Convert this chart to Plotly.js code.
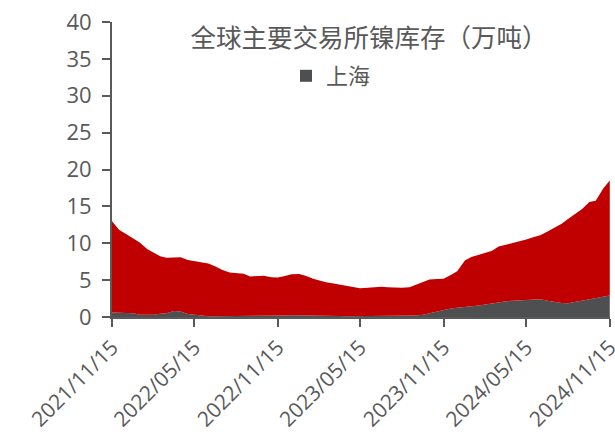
<!DOCTYPE html>
<html>
<head>
<meta charset="utf-8">
<script src="https://cdn.plot.ly/plotly-3.0.1.min.js"></script>
<style>
  html, body { margin: 0; padding: 0; background: #ffffff; }
  #chart { width: 615px; height: 434px; }
</style>
</head>
<body>
<div id="chart"></div>
<script>
// Nickel warehouse stocks at the major exchanges, 10k tonnes, semi-monthly readings
const dates = [
  '2021-11-15','2021-12-01','2021-12-15',
  '2022-01-01','2022-01-15','2022-02-01','2022-02-15','2022-03-01','2022-03-15',
  '2022-04-01','2022-04-15','2022-05-01','2022-05-15','2022-06-01','2022-06-15',
  '2022-07-01','2022-07-15','2022-08-01','2022-08-15','2022-09-01','2022-09-15',
  '2022-10-01','2022-10-15','2022-11-01','2022-11-15','2022-12-01','2022-12-15',
  '2023-01-01','2023-01-15','2023-02-01','2023-02-15','2023-03-01','2023-03-15',
  '2023-04-01','2023-04-15','2023-05-01','2023-05-15','2023-06-01','2023-06-15',
  '2023-07-01','2023-07-15','2023-08-01','2023-08-15','2023-09-01','2023-09-15',
  '2023-10-01','2023-10-15','2023-11-01','2023-11-15','2023-12-01','2023-12-15',
  '2024-01-01','2024-01-15','2024-02-01','2024-02-15','2024-03-01','2024-03-15',
  '2024-04-01','2024-04-15','2024-05-01','2024-05-15','2024-06-01','2024-06-15',
  '2024-07-01','2024-07-15','2024-08-01','2024-08-15','2024-09-01','2024-09-15',
  '2024-10-01','2024-10-15','2024-11-01','2024-11-15'
];

// Shanghai (SHFE) stocks
const shanghai = [
  0.6, 0.6, 0.55,
  0.5, 0.3, 0.25, 0.3, 0.45, 0.5,
  0.8, 0.75, 0.4, 0.3, 0.15, 0.1,
  0.1, 0.1, 0.15, 0.12, 0.1, 0.1,
  0.15, 0.2, 0.2, 0.2, 0.2, 0.25,
  0.25, 0.2, 0.15, 0.15, 0.2, 0.15,
  0.15, 0.1, 0.1, 0.15, 0.2, 0.2,
  0.15, 0.1, 0.15, 0.15, 0.15, 0.2,
  0.3, 0.5, 0.8, 0.95, 1.15, 1.25,
  1.35, 1.4, 1.55, 1.7, 1.8, 1.95,
  2.15, 2.2, 2.3, 2.35, 2.4, 2.4,
  2.2, 2.05, 1.9, 1.85, 2.05, 2.2,
  2.35, 2.5, 2.75, 2.9
];

// London (LME) stocks, stacked on top of Shanghai
const london = [
  12.4, 11.2, 10.75,
  10.2, 9.8, 8.95, 8.4, 7.8, 7.55,
  7.3, 7.35, 7.33, 7.3, 7.25, 7.15,
  6.75, 6.3, 5.9, 5.83, 5.75, 5.4,
  5.35, 5.4, 5.2, 5.15, 5.35, 5.53,
  5.58, 5.4, 5.05, 4.75, 4.5, 4.42,
  4.23, 4.05, 3.9, 3.75, 3.75, 3.85,
  3.95, 3.95, 3.85, 3.83, 3.9, 4.2,
  4.5, 4.6, 4.35, 4.25, 4.55, 4.95,
  6.3, 6.75, 6.9, 7.03, 7.2, 7.6,
  7.65, 7.8, 7.9, 8.15, 8.45, 8.7,
  9.4, 10.0, 10.75, 11.45, 12.0, 12.45,
  13.25, 13.25, 14.7, 15.6
];

const tickDates = ['2021-11-15','2022-05-15','2022-11-15','2023-05-15','2023-11-15','2024-05-15','2024-11-15'];
const tickLabels = ['2021/11/15','2022/05/15','2022/11/15','2023/05/15','2023/11/15','2024/05/15','2024/11/15'];
const yTicks = [0, 5, 10, 15, 20, 25, 30, 35, 40];

const GRAY = '#4e4f51';
const RED = '#c00000';
const TEXT = '#595959';
const FONT = 'Open Sans, "Noto Sans CJK SC", sans-serif';

const traces = [
  {
    x: dates, y: shanghai, name: '上海',
    type: 'scatter', mode: 'lines', stackgroup: 'stock',
    line: { width: 0, color: GRAY }, fillcolor: GRAY,
    showlegend: false, hoverinfo: 'skip'
  },
  {
    x: dates, y: london, name: 'LME',
    type: 'scatter', mode: 'lines', stackgroup: 'stock',
    line: { width: 0, color: RED }, fillcolor: RED,
    showlegend: false, hoverinfo: 'skip'
  },
  {
    // legend key for the Shanghai series
    x: [null], y: [null], name: '上海',
    type: 'scatter', mode: 'markers',
    marker: { symbol: 'square', size: 12, color: GRAY },
    showlegend: true
  }
];

const layout = {
  width: 615, height: 434,
  margin: { l: 112, r: 5, t: 22, b: 117 },
  paper_bgcolor: '#ffffff', plot_bgcolor: '#ffffff',
  font: { family: FONT, color: TEXT, size: 20 },
  title: {
    text: '全球主要交易所镍库存（万吨）',
    font: { family: '"Noto Sans CJK SC", sans-serif', size: 25.5, color: TEXT },
    x: 369 / 615, xanchor: 'center', xref: 'container',
    y: 1 - 38 / 434, yanchor: 'middle', yref: 'container'
  },
  showlegend: true,
  legend: {
    x: (286 - 112) / 498, xref: 'paper', xanchor: 'left',
    y: 1 - (55 - 22) / 295, yref: 'paper', yanchor: 'top',
    bgcolor: 'rgba(0,0,0,0)',
    font: { family: '"Noto Sans CJK SC", sans-serif', size: 22, color: TEXT }
  },
  xaxis: {
    type: 'date',
    range: ['2021-11-15', '2024-11-15 12:00'],
    tickmode: 'array', tickvals: tickDates, ticktext: tickLabels,
    tickangle: -45,
    ticks: 'outside', ticklen: 8, tickwidth: 2, tickcolor: TEXT,
    ticklabeloverflow: 'allow',
    showline: true, linecolor: TEXT, linewidth: 2,
    showgrid: false, zeroline: false, automargin: false,
    tickfont: { family: FONT, size: 21, color: TEXT }
  },
  yaxis: {
    range: [0, 40],
    tickmode: 'array', tickvals: yTicks,
    ticks: 'outside', ticklen: 8, tickwidth: 2, tickcolor: TEXT,
    ticklabelstandoff: 6,
    showline: true, linecolor: TEXT, linewidth: 2,
    showgrid: false, zeroline: false, automargin: false,
    tickfont: { family: FONT, size: 22, color: TEXT }
  }
};

Plotly.newPlot('chart', traces, layout, { displayModeBar: false, staticPlot: true });
</script>
</body>
</html>
